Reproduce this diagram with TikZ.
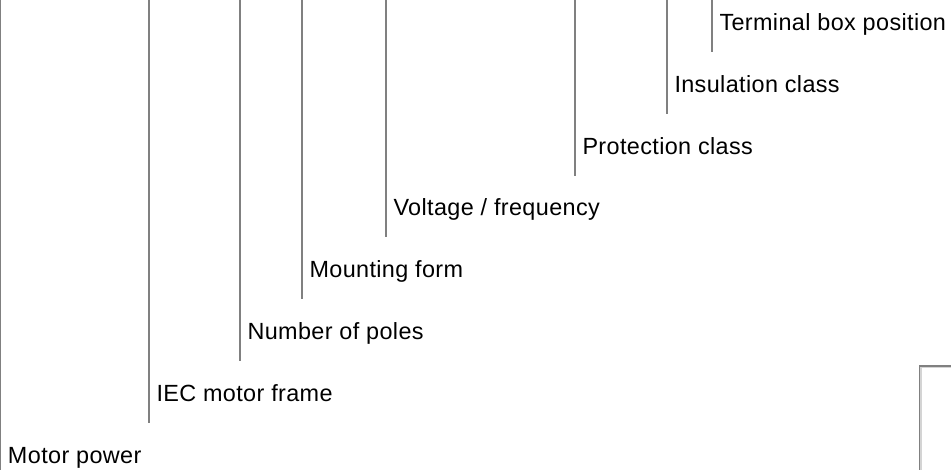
\documentclass[tikz,border=0pt]{standalone}
\usepackage{fontspec}
\setmainfont{Liberation Sans}[LetterSpace=1.6]
\definecolor{leadgray}{HTML}{808080}
\definecolor{etchgray}{HTML}{D4D4D4}
\tikzset{
  lead/.style={draw=leadgray, line width=1.4pt},
  lbl/.style={anchor=base west, inner sep=0pt, outer sep=0pt, font=\fontsize{23.4}{27}\selectfont, text=black},
}
\begin{document}
\begin{tikzpicture}[x=1pt,y=-1pt]
\useasboundingbox (0,0) rectangle (951,470);
% label rows: baseline = 30.5 + 61.8 i ; line end = 52 + 61.8 i
\foreach \n/\x/\i/\t in {
  tb/712/0/{Terminal box position},
  ic/667/1/{Insulation class},
  pc/575/2/{Protection class},
  vf/386/3/{Voltage / frequency},
  mf/302/4/{Mounting form},
  np/240/5/{Number of poles},
  iec/149/6/{IEC motor frame}}{
  \coordinate (\n top) at (\x, 0);
  \coordinate (\n end) at (\x, {52+61.8*\i});
  \node[lbl] (\n) at ({\x+7.5}, {30.5+61.8*\i}) {\t};
  \draw[lead] (\n top) -- (\n end);
}
\coordinate (mptop) at (0.75,0);
\coordinate (mpend) at (0.75,470);
\node[lbl] (mp) at (8.0, {30.5+61.8*7}) {Motor power};
\draw[lead] (mptop) -- (mpend);
% partial box at bottom right
\coordinate (bxa) at (919.3,470);
\coordinate (bxb) at (919.3,366);
\coordinate (bxc) at (951,366);
\coordinate (bxd) at (921,470);
\coordinate (bxe) at (921,367.6);
\coordinate (bxf) at (951,367.6);
\draw[draw=etchgray, line width=1.3pt] (bxd) -- (bxe) -- (bxf);
\draw[draw=leadgray, line width=1.6pt] (bxa) -- (bxb) -- (bxc);
\end{tikzpicture}
\end{document}
